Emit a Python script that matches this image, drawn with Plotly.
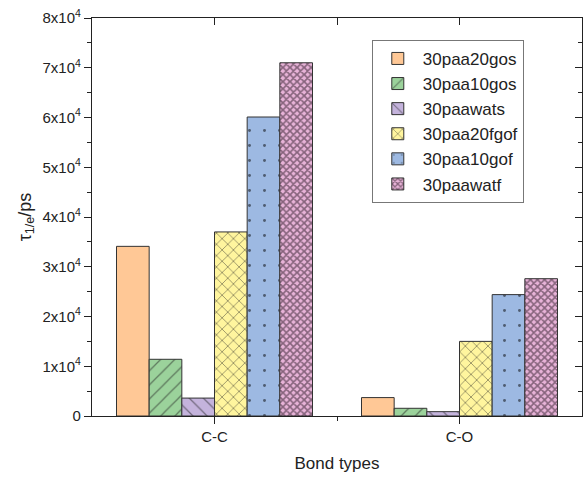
import plotly.graph_objects as go

# Bond-type categories and relaxation times (ps) for each system
categories = ["C-C", "C-O"]
cat_pos = [0, 1]
series_names = ["30paa20gos", "30paa10gos", "30paawats", "30paa20fgof", "30paa10gof", "30paawatf"]
tau_30paa20gos = [34100, 3700]
tau_30paa10gos = [11400, 1550]
tau_30paawats = [3600, 870]
tau_30paa20fgof = [37000, 15000]
tau_30paa10gof = [60100, 24400]
tau_30paawatf = [71000, 27600]

y_tickvals = [0, 10000, 20000, 30000, 40000, 50000, 60000, 70000, 80000]
y_ticktext = ["0"] + [f"{i}x10<sup>4</sup>" for i in range(1, 9)]
y_minor = [5000 + 10000 * i for i in range(8)]

series_values = [tau_30paa20gos, tau_30paa10gos, tau_30paawats,
                 tau_30paa20fgof, tau_30paa10gof, tau_30paawatf]
fills = ["#FFC896", "#9BD29B", "#C4B3DC", "#FFF59E", "#9DB9E2", "#E8B3D8"]
patterns = [
    dict(shape=""),
    dict(shape="/", size=10, solidity=0.13, fgcolor="#222222"),
    dict(shape="\\", size=10, solidity=0.13, fgcolor="#222222"),
    dict(shape="x", size=8, solidity=0.2, fgcolor="#222222"),
    dict(shape=".", size=15, solidity=0.03, fgcolor="#000000"),
    dict(shape="x", size=5, solidity=0.55, fgcolor="#24141f"),
]

FONT = "Liberation Sans, Arial, sans-serif"

fig = go.Figure()
for name, vals, col, pat in zip(series_names, series_values, fills, patterns):
    p = dict(pat)
    if p.get("shape"):
        p["bgcolor"] = col
        p["fillmode"] = "overlay"
    fig.add_trace(go.Bar(
        x=cat_pos, y=vals, name=name,
        marker=dict(color=col, line=dict(color="#333333", width=1), pattern=p),
    ))

# empty trace so the mirrored top/right frame axes get drawn
fig.add_trace(go.Scatter(x=[None], y=[None], xaxis="x2", yaxis="y2", mode="markers",
                         showlegend=False, hoverinfo="skip"))

axis_common = dict(showline=True, linecolor="#222222", linewidth=1.3, showgrid=False,
                   zeroline=False, tickcolor="#222222", tickwidth=1.3)

fig.update_layout(
    width=584, height=479,
    margin=dict(l=92, r=2, t=18, b=63),
    paper_bgcolor="white", plot_bgcolor="white",
    barmode="group", bargap=0.2, bargroupgap=0,
    font=dict(family=FONT, color="#222222", size=15),
    showlegend=True,
    legend=dict(x=0.571, y=0.945, xanchor="left", yanchor="top",
                bordercolor="#777777", borderwidth=1, bgcolor="white",
                font=dict(size=17, family=FONT), tracegroupgap=0, itemwidth=40),
    xaxis=dict(range=[-0.5, 1.5], tickmode="array", tickvals=cat_pos, ticktext=categories,
               ticks="outside", ticklen=7,
               minor=dict(tickmode="array", tickvals=[0.5], ticks="outside", ticklen=4,
                          tickcolor="#222222", tickwidth=1.3),
               title=dict(text="Bond types", font=dict(size=17), standoff=12),
               tickfont=dict(size=15), **axis_common),
    xaxis2=dict(range=[-0.5, 1.5], overlaying="x", side="top", tickmode="array",
                tickvals=[0, 0.5, 1], ticks="inside", ticklen=7, showticklabels=False,
                **axis_common),
    yaxis=dict(range=[0, 80000], tickmode="array", tickvals=y_tickvals, ticktext=y_ticktext,
               ticks="outside", ticklen=7,
               minor=dict(tickmode="array", tickvals=y_minor,
                          ticks="outside", ticklen=4, tickcolor="#222222", tickwidth=1.3),
               title=dict(text="τ<sub>1/e</sub>/ps", font=dict(size=18), standoff=6),
               tickfont=dict(size=15), **axis_common),
    yaxis2=dict(range=[0, 80000], overlaying="y", side="right", tickmode="array",
                tickvals=y_tickvals, ticks="inside", ticklen=7, showticklabels=False,
                minor=dict(tickmode="array", tickvals=y_minor,
                           ticks="inside", ticklen=4, tickcolor="#222222", tickwidth=1.3),
                **axis_common),
)

fig.write_html("out.html")
